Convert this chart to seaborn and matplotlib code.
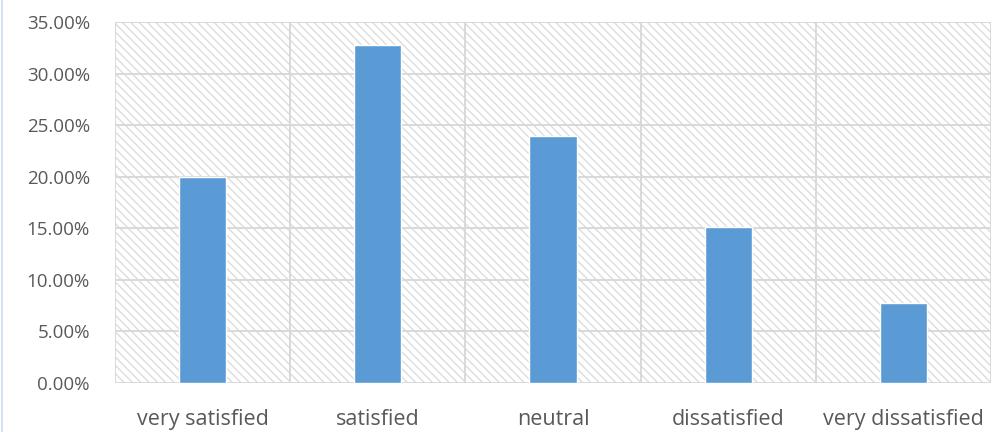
import matplotlib
matplotlib.use("Agg")
import matplotlib.pyplot as plt
import matplotlib.patches as mpatches
from matplotlib.lines import Line2D
from matplotlib.ticker import FuncFormatter, MultipleLocator, FixedLocator
import pandas as pd
import seaborn as sns

categories = ["very satisfied", "satisfied", "neutral", "dissatisfied", "very dissatisfied"]
shares = [20.0, 32.8, 23.9, 15.1, 7.8]

sns.set_style("white")
plt.rcParams["font.family"] = ["Open Sans", "DejaVu Sans"]
plt.rcParams["hatch.linewidth"] = 1.0

df = pd.DataFrame({"category": categories, "share": shares})

fig = plt.figure(figsize=(9.92, 4.32), dpi=100)
ax = fig.add_axes([115 / 992, 1 - 383 / 432, 876 / 992, 361 / 432])

# diagonal hatched plot background
bg = mpatches.Rectangle((0, 0), 1, 1, transform=ax.transAxes, fill=False,
                        hatch="\\\\\\\\", edgecolor="#dcdcdc", linewidth=0, zorder=0)
ax.add_patch(bg)

sns.barplot(data=df, x="category", y="share", color="#5B9BD5", width=0.27,
            saturation=1, ax=ax, zorder=3)

ax.set_xlim(-0.5, 4.5)
ax.set_ylim(0, 35)
ax.yaxis.set_major_locator(MultipleLocator(5))
ax.yaxis.set_major_formatter(FuncFormatter(lambda v, p: f"{v:.2f}%"))
ax.xaxis.set_minor_locator(FixedLocator([i - 0.5 for i in range(6)]))

ax.grid(axis="y", which="major", color="#d9d9d9", linewidth=1.4, zorder=1)
ax.grid(axis="x", which="minor", color="#d9d9d9", linewidth=1.4, zorder=1)
ax.set_axisbelow(True)
for s in ax.spines.values():
    s.set_visible(False)

ax.set_xlabel("")
ax.set_ylabel("")
ax.tick_params(axis="both", which="both", length=0, labelcolor="#595959")
ax.tick_params(axis="y", labelsize=13.5, pad=18)
ax.tick_params(axis="x", labelsize=15.5, pad=19)

# thin light-blue frame edge on the left
fig.add_artist(Line2D([1.5 / 992, 1.5 / 992], [0, 1], transform=fig.transFigure,
                      color="#c9dcf2", linewidth=1.2))

fig.savefig("out.png", dpi=100)
